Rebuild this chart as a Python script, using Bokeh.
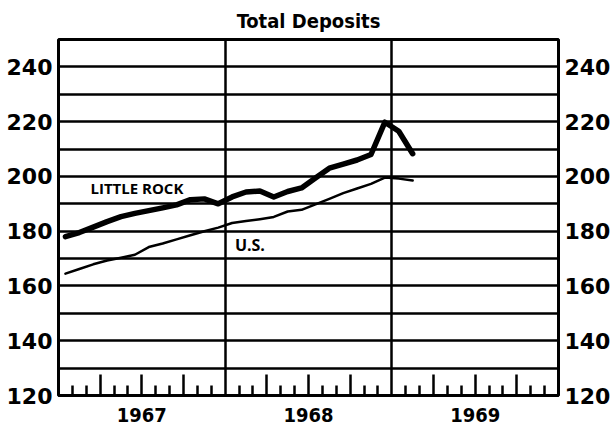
from bokeh.plotting import figure
from bokeh.models import FixedTicker, LinearAxis
from bokeh.core.properties import value
from bokeh.embed import file_html
from bokeh.resources import INLINE

# ---- data: mid-month readings Jan 1967 .. Feb 1969
months = [0.5, 1.5, 2.5, 3.5, 4.5, 5.5, 6.5, 7.5, 8.5, 9.5, 10.5, 11.5,
          12.5, 13.5, 14.5, 15.5, 16.5, 17.5, 18.5, 19.5, 20.5, 21.5, 22.5, 23.5,
          24.5, 25.5]
little_rock = [178.0, 179.5, 181.5, 183.5, 185.3, 186.5, 187.5, 188.5, 189.6, 191.5, 191.8, 190.0,
               192.5, 194.3, 194.7, 192.5, 194.5, 195.8, 199.4, 203.0, 204.5, 206.0, 208.0, 219.8,
               216.5, 208.3]
us = [164.5, 166.2, 167.9, 169.3, 170.3, 171.4, 174.2, 175.5, 177.0, 178.5, 180.0, 181.3,
      183.0, 183.7, 184.4, 185.2, 187.2, 187.8, 189.8, 191.8, 193.9, 195.6, 197.3, 199.6,
      199.2, 198.5]

y_tick_values = [120, 140, 160, 180, 200, 220, 240]
grid_levels = [130, 140, 150, 160, 170, 180, 190, 200, 210, 220, 230, 240]
year_bounds = [12, 24]
quarter_ticks = [3, 6, 9, 15, 18, 21, 27, 30, 33]
month_ticks = [1, 2, 4, 5, 7, 8, 10, 11, 13, 14, 16, 17, 19, 20, 22, 23, 25, 26,
               28, 29, 31, 32, 34, 35]
year_labels = {6: "1967", 18: "1968", 30: "1969"}

NUM_FONT = "DejaVu Sans"
YEAR_FONT = "DejaVu Sans Condensed"
TITLE_FONT = "DejaVu Sans Condensed"
LBL_FONT = "Open Sans"

p = figure(width=616, height=434, x_range=(0, 36), y_range=(120, 250),
           output_backend="svg", toolbar_location=None,
           min_border_left=58, min_border_right=58, min_border_top=38,
           min_border_bottom=39)
p.background_fill_color = "white"
p.border_fill_color = "white"
p.outline_line_color = "black"
p.outline_line_width = 3
p.outline_line_alpha = 1.0

# title
p.title.text = "Total Deposits"
p.title.align = "center"
p.title.text_font = TITLE_FONT
p.title.text_font_style = "bold"
p.title.text_font_size = "20px"
p.title.text_color = "black"
p.title.standoff = 13

# grids
p.ygrid.ticker = FixedTicker(ticks=grid_levels)
p.ygrid.grid_line_color = "black"
p.ygrid.grid_line_width = 2.5
p.ygrid.grid_line_alpha = 1.0
p.xgrid.ticker = FixedTicker(ticks=year_bounds)
p.xgrid.grid_line_color = "black"
p.xgrid.grid_line_width = 2.5
p.xgrid.grid_line_alpha = 1.0

# bottom axis: month ticks inward, year labels
xa = p.xaxis[0]
xa.ticker = FixedTicker(ticks=quarter_ticks, minor_ticks=month_ticks)
xa.major_label_overrides = {t: year_labels.get(t, "") for t in quarter_ticks}
xa.major_tick_in = 21
xa.major_tick_out = 0
xa.minor_tick_in = 10
xa.minor_tick_out = 0
xa.major_tick_line_width = 2.5
xa.minor_tick_line_width = 2.5
xa.major_tick_line_color = "black"
xa.minor_tick_line_color = "black"
xa.axis_line_width = 3
xa.axis_line_color = "black"
xa.major_label_text_font = YEAR_FONT
xa.major_label_text_font_style = "bold"
xa.major_label_text_font_size = "20px"
xa.major_label_text_color = "black"
xa.major_label_standoff = 12

def style_y(ax):
    ax.ticker = FixedTicker(ticks=y_tick_values)
    ax.major_tick_in = 0
    ax.major_tick_out = 0
    ax.minor_tick_in = 0
    ax.minor_tick_out = 0
    ax.axis_line_color = None
    ax.major_label_text_font = NUM_FONT
    ax.major_label_text_font_style = "bold"
    ax.major_label_text_font_size = "22px"
    ax.major_label_text_color = "black"
    ax.major_label_standoff = 6

style_y(p.yaxis[0])
ra = LinearAxis()
style_y(ra)
p.add_layout(ra, "right")

# series
p.line(months, us, line_color="black", line_width=2.5, line_join="round", line_cap="round")
p.line(months, little_rock, line_color="black", line_width=5.5, line_join="round", line_cap="round")

# series labels
p.text(x=[2.3], y=[195.6], text=["LITTLE ROCK"], text_font=value(LBL_FONT),
       text_font_style="bold", text_font_size="15px", text_baseline="middle",
       text_align="left", text_color="black")
p.text(x=[12.7], y=[175.0], text=["U.S."], text_font=value(LBL_FONT),
       text_font_style="bold", text_font_size="16px", text_baseline="middle",
       text_align="left", text_color="black")

open("out.html", "w").write(file_html(p, INLINE))
